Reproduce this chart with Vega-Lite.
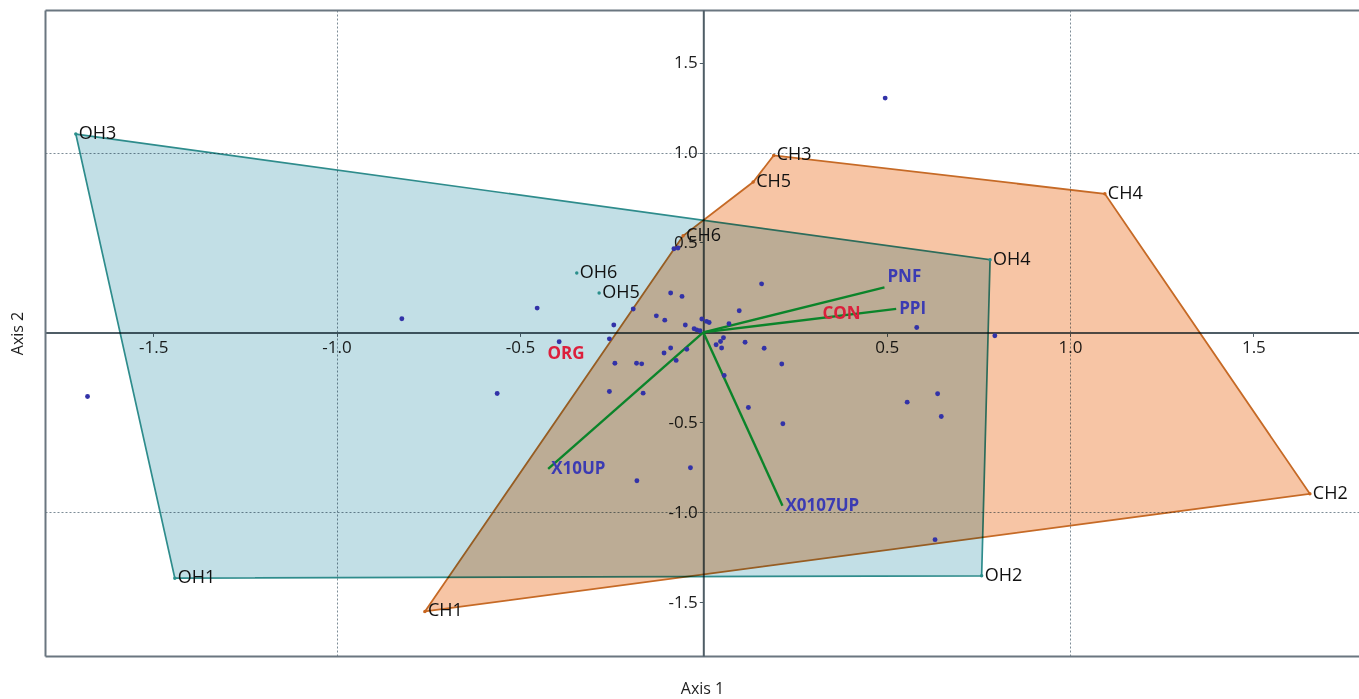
{
  "$schema": "https://vega.github.io/schema/vega-lite/v6.json",
  "width": 1314,
  "height": 646,
  "autosize": {"type": "none"},
  "padding": {"left": 45, "top": 10, "right": 0, "bottom": 43},
  "background": "white",
  "config": {"font": "Open Sans", "view": {"stroke": null}},
  "datasets": {
    "sites": [
      {"site": "OH1", "grp": "OH", "x": -1.441, "y": -1.367, "hull": 4},
      {"site": "OH2", "grp": "OH", "x": 0.759, "y": -1.354, "hull": 3},
      {"site": "OH3", "grp": "OH", "x": -1.711, "y": 1.103, "hull": 1},
      {"site": "OH4", "grp": "OH", "x": 0.782, "y": 0.404, "hull": 2},
      {"site": "OH5", "grp": "OH", "x": -0.284, "y": 0.219, "hull": null},
      {"site": "OH6", "grp": "OH", "x": -0.345, "y": 0.33, "hull": null},
      {"site": "CH1", "grp": "CH", "x": -0.759, "y": -1.552, "hull": 1},
      {"site": "CH2", "grp": "CH", "x": 1.654, "y": -0.898, "hull": 6},
      {"site": "CH3", "grp": "CH", "x": 0.192, "y": 0.984, "hull": 4},
      {"site": "CH4", "grp": "CH", "x": 1.095, "y": 0.771, "hull": 5},
      {"site": "CH5", "grp": "CH", "x": 0.136, "y": 0.836, "hull": 3},
      {"site": "CH6", "grp": "CH", "x": -0.055, "y": 0.537, "hull": 2}
    ],
    "species": [
      {"x": -0.822, "y": 0.076}, {"x": -0.453, "y": 0.135}, {"x": -0.393, "y": -0.052},
      {"x": -0.562, "y": -0.34}, {"x": -1.679, "y": -0.357}, {"x": 0.496, "y": 1.303},
      {"x": -0.08, "y": 0.465}, {"x": -0.069, "y": 0.469}, {"x": 0.159, "y": 0.27},
      {"x": -0.089, "y": 0.219}, {"x": -0.058, "y": 0.2}, {"x": -0.191, "y": 0.13},
      {"x": 0.098, "y": 0.12}, {"x": -0.128, "y": 0.092}, {"x": -0.105, "y": 0.068},
      {"x": -0.244, "y": 0.041}, {"x": -0.049, "y": 0.041}, {"x": -0.004, "y": 0.074},
      {"x": 0.009, "y": 0.061}, {"x": 0.016, "y": 0.055}, {"x": 0.07, "y": 0.048},
      {"x": -0.025, "y": 0.02}, {"x": -0.018, "y": 0.014}, {"x": -0.009, "y": 0.009},
      {"x": -0.256, "y": -0.036}, {"x": -0.089, "y": -0.087}, {"x": -0.107, "y": -0.115},
      {"x": -0.045, "y": -0.094}, {"x": 0.035, "y": -0.069}, {"x": 0.047, "y": -0.051},
      {"x": 0.055, "y": -0.03}, {"x": 0.05, "y": -0.087}, {"x": 0.114, "y": -0.055},
      {"x": 0.166, "y": -0.088}, {"x": 0.214, "y": -0.176}, {"x": -0.074, "y": -0.156},
      {"x": -0.241, "y": -0.172}, {"x": -0.182, "y": -0.172}, {"x": -0.168, "y": -0.175},
      {"x": 0.057, "y": -0.24}, {"x": -0.256, "y": -0.329}, {"x": -0.164, "y": -0.338},
      {"x": 0.123, "y": -0.418}, {"x": 0.217, "y": -0.508}, {"x": -0.035, "y": -0.753},
      {"x": -0.181, "y": -0.825}, {"x": 0.582, "y": 0.027}, {"x": 0.795, "y": -0.019},
      {"x": 0.556, "y": -0.388}, {"x": 0.639, "y": -0.341}, {"x": 0.649, "y": -0.468},
      {"x": 0.632, "y": -1.153}
    ],
    "vectors": [
      {"var": "PNF", "x": 0.494, "y": 0.25},
      {"var": "PPI", "x": 0.526, "y": 0.131},
      {"var": "X10UP", "x": -0.423, "y": -0.759},
      {"var": "X0107UP", "x": 0.216, "y": -0.964}
    ],
    "factors": [
      {"lev": "CON", "x": 0.377, "y": 0.102},
      {"lev": "ORG", "x": -0.374, "y": -0.119}
    ]
  },
  "resolve": {"axis": {"x": "independent", "y": "independent"}},
  "layer": [
    {
      "data": {"name": "sites"},
      "transform": [{"filter": "datum.grp == 'OH' && datum.hull != null"}],
      "mark": {"type": "line", "interpolate": "linear-closed", "fill": "#c2dfe6", "stroke": "#2e8c8c", "strokeWidth": 1.7, "blend": "multiply"},
      "encoding": {
        "x": {"field": "x", "type": "quantitative", "scale": {"domain": [-1.795, 1.788], "nice": false, "zero": false},
          "axis": {"orient": "bottom", "offset": -323.6, "values": [-1.5, -1, -0.5, 0.5, 1, 1.5], "format": ".1f", "labelExpr": "replace(datum.label, '\u2212', '-')", "grid": false,
            "domainColor": "#4f5d66", "domainWidth": 2, "tickColor": "#4f5d66", "tickSize": 4, "labelFontSize": 17, "labelColor": "#1e1e1e", "labelPadding": 3, "title": null}},
        "y": {"field": "y", "type": "quantitative", "scale": {"domain": [-1.8, 1.793], "nice": false, "zero": false},
          "axis": {"orient": "left", "offset": -658.3, "values": [-1.5, -1, -0.5, 0.5, 1, 1.5], "format": ".1f", "labelExpr": "replace(datum.label, '\u2212', '-')", "grid": false,
            "domainColor": "#4f5d66", "domainWidth": 2, "tickColor": "#4f5d66", "tickSize": 4, "labelFontSize": 17, "labelColor": "#1e1e1e", "labelPadding": 2, "title": null}},
        "order": {"field": "hull"}
      }
    },
    {
      "data": {"name": "sites"},
      "transform": [{"filter": "datum.grp == 'CH' && datum.hull != null"}],
      "mark": {"type": "line", "interpolate": "linear-closed", "fill": "#f7c5a5", "stroke": "#c66a26", "strokeWidth": 1.8, "blend": "multiply"},
      "encoding": {
        "x": {"field": "x", "type": "quantitative", "scale": {"domain": [-1.795, 1.788], "nice": false, "zero": false}, "axis": null},
        "y": {"field": "y", "type": "quantitative", "scale": {"domain": [-1.8, 1.793], "nice": false, "zero": false}, "axis": null},
        "order": {"field": "hull"}
      }
    },
    {
      "data": {"name": "vectors"},
      "mark": {"type": "rule", "color": "#0b842a", "strokeWidth": 2.4},
      "encoding": {
        "x": {"field": "x", "type": "quantitative", "scale": {"domain": [-1.795, 1.788], "nice": false, "zero": false}, "axis": null},
        "y": {"field": "y", "type": "quantitative", "scale": {"domain": [-1.8, 1.793], "nice": false, "zero": false}, "axis": null},
        "x2": {"datum": 0},
        "y2": {"datum": 0}
      }
    },
    {
      "data": {"name": "species"},
      "mark": {"type": "circle", "size": 24, "color": "#3232a8", "opacity": 1},
      "encoding": {
        "x": {"field": "x", "type": "quantitative", "scale": {"domain": [-1.795, 1.788], "nice": false, "zero": false},
          "axis": {"orient": "bottom", "offset": 0, "values": [-1, 1], "grid": true, "gridColor": "#7d8c97", "gridDash": [2, 2], "gridWidth": 1,
            "domain": true, "domainColor": "#6a7680", "domainWidth": 2, "ticks": false, "labels": false, "title": "Axis 1", "titleFontSize": 16, "titleFontWeight": "normal", "titleColor": "#1e1e1e", "titlePadding": 24}},
        "y": {"field": "y", "type": "quantitative", "scale": {"domain": [-1.8, 1.793], "nice": false, "zero": false},
          "axis": {"orient": "left", "offset": 0, "values": [-1, 1], "grid": true, "gridColor": "#7d8c97", "gridDash": [2, 2], "gridWidth": 1,
            "domain": true, "domainColor": "#6a7680", "domainWidth": 2, "ticks": false, "labels": false, "title": "Axis 2", "titleFontSize": 16, "titleFontWeight": "normal", "titleColor": "#1e1e1e", "titlePadding": 20}}
      }
    },
    {
      "data": {"name": "sites"},
      "mark": {"type": "circle", "size": 12, "opacity": 1},
      "encoding": {
        "x": {"field": "x", "type": "quantitative", "scale": {"domain": [-1.795, 1.788], "nice": false, "zero": false},
          "axis": {"orient": "top", "offset": 0, "values": [], "grid": false, "domain": true, "domainColor": "#6a7680", "domainWidth": 2, "ticks": false, "labels": false, "title": null}},
        "y": {"field": "y", "type": "quantitative", "scale": {"domain": [-1.8, 1.793], "nice": false, "zero": false}, "axis": null},
        "color": {"field": "grp", "type": "nominal", "scale": {"domain": ["OH", "CH"], "range": ["#2a8f8c", "#c9651e"]}, "legend": null}
      }
    },
    {
      "data": {"name": "sites"},
      "mark": {"type": "text", "align": "left", "baseline": "middle", "dx": 3, "fontSize": 18, "color": "#111111"},
      "encoding": {
        "x": {"field": "x", "type": "quantitative", "scale": {"domain": [-1.795, 1.788], "nice": false, "zero": false}, "axis": null},
        "y": {"field": "y", "type": "quantitative", "scale": {"domain": [-1.8, 1.793], "nice": false, "zero": false}, "axis": null},
        "text": {"field": "site"}
      }
    },
    {
      "data": {"name": "vectors"},
      "transform": [{"filter": "datum.var != 'PNF'"}],
      "mark": {"type": "text", "align": "left", "baseline": "middle", "dx": 3, "fontSize": 17, "fontWeight": "bold", "color": "#3b3bb3"},
      "encoding": {
        "x": {"field": "x", "type": "quantitative", "scale": {"domain": [-1.795, 1.788], "nice": false, "zero": false}, "axis": null},
        "y": {"field": "y", "type": "quantitative", "scale": {"domain": [-1.8, 1.793], "nice": false, "zero": false}, "axis": null},
        "text": {"field": "var"}
      }
    },
    {
      "data": {"name": "vectors"},
      "transform": [{"filter": "datum.var == 'PNF'"}],
      "mark": {"type": "text", "align": "left", "baseline": "middle", "dx": 3, "dy": -10, "fontSize": 17, "fontWeight": "bold", "color": "#3b3bb3"},
      "encoding": {
        "x": {"field": "x", "type": "quantitative", "scale": {"domain": [-1.795, 1.788], "nice": false, "zero": false}, "axis": null},
        "y": {"field": "y", "type": "quantitative", "scale": {"domain": [-1.8, 1.793], "nice": false, "zero": false}, "axis": null},
        "text": {"field": "var"}
      }
    },
    {
      "data": {"name": "factors"},
      "mark": {"type": "text", "align": "center", "baseline": "middle", "fontSize": 17, "fontWeight": "bold", "color": "#dc1f3c"},
      "encoding": {
        "x": {"field": "x", "type": "quantitative", "scale": {"domain": [-1.795, 1.788], "nice": false, "zero": false}, "axis": null},
        "y": {"field": "y", "type": "quantitative", "scale": {"domain": [-1.8, 1.793], "nice": false, "zero": false}, "axis": null},
        "text": {"field": "lev"}
      }
    }
  ]
}
